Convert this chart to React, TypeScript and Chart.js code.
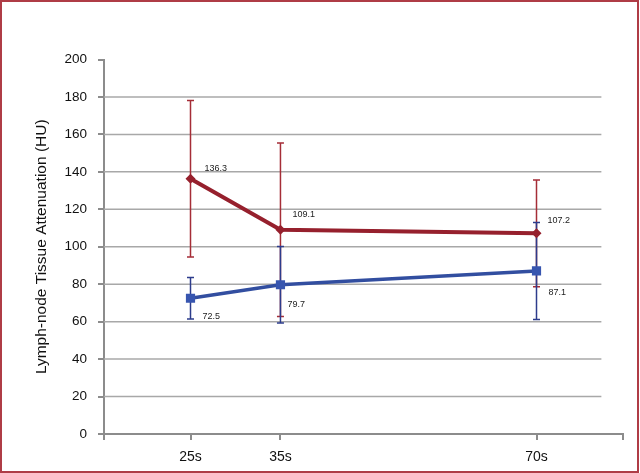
import React, { useEffect, useRef } from 'react';
import { Chart, registerables } from 'chart.js';

Chart.register(...registerables);

// ---- data ----
const categories = ['25s', '35s', '70s'];
const categoryPositions = [1, 2.04, 5];
const xAxisTicks = [0, 1, 2.04, 5, 6];
const yTicks = [0, 20, 40, 60, 80, 100, 120, 140, 160, 180, 200];
const gridValues = [20, 40, 60, 80, 100, 120, 140, 160, 180];

const redValues = [136.3, 109.1, 107.2];
const redErrors = [41.8, 46.3, 28.5];
const blueValues = [72.5, 79.7, 87.1];
const blueErrors = [11.1, 20.4, 25.9];

// label offsets relative to the point (px)
const redLabelOffsets = [[14, -10], [12, -15], [11, -13]];
const blueLabelOffsets = [[12, 18], [7, 20], [12, 22]];

const RED = 'rgb(150,32,45)';
const RED_BAR = 'rgb(165,45,55)';
const BLUE = 'rgb(50,78,160)';
const BLUE_BAR = 'rgb(45,60,140)';
const AXIS = '#8c8c8c';
const GRID = '#a8a8a8';
const FONT = "'Liberation Sans', Arial, Helvetica, sans-serif";
const GRID_END = 5.75;

const labelFor = (v: number) => {
  const i = categoryPositions.indexOf(v);
  return i >= 0 ? categories[i] : '';
};

export default function App() {
  const ref = useRef<HTMLCanvasElement>(null);

  useEffect(() => {
    const canvas = ref.current!;
    const toPts = (vals: number[]) => vals.map((v, i) => ({ x: categoryPositions[i], y: v }));

    const decor = {
      id: 'decor',
      beforeDatasetsDraw(chart: any) {
        const { ctx, chartArea, scales } = chart;
        const x = scales.x;
        const y = scales.y;
        ctx.save();
        // gridlines
        ctx.strokeStyle = GRID;
        ctx.lineWidth = 1.5;
        const xr = x.getPixelForValue(GRID_END);
        gridValues.forEach((v) => {
          const py = y.getPixelForValue(v);
          ctx.beginPath();
          ctx.moveTo(chartArea.left, py);
          ctx.lineTo(xr, py);
          ctx.stroke();
        });
        // error bars
        const bars = (vals: number[], errs: number[], color: string) => {
          ctx.strokeStyle = color;
          ctx.lineWidth = 1.5;
          vals.forEach((v, i) => {
            const px = x.getPixelForValue(categoryPositions[i]);
            const top = y.getPixelForValue(v + errs[i]);
            const bot = y.getPixelForValue(v - errs[i]);
            ctx.beginPath();
            ctx.moveTo(px, top);
            ctx.lineTo(px, bot);
            ctx.moveTo(px - 3.5, top);
            ctx.lineTo(px + 3.5, top);
            ctx.moveTo(px - 3.5, bot);
            ctx.lineTo(px + 3.5, bot);
            ctx.stroke();
          });
        };
        bars(redValues, redErrors, RED_BAR);
        bars(blueValues, blueErrors, BLUE_BAR);
        ctx.restore();
      },
      afterDatasetsDraw(chart: any) {
        const { ctx, scales } = chart;
        const x = scales.x;
        const y = scales.y;
        ctx.save();
        ctx.fillStyle = '#222';
        ctx.font = `9px ${FONT}`;
        ctx.textAlign = 'left';
        ctx.textBaseline = 'middle';
        const labels = (vals: number[], offs: number[][]) => {
          vals.forEach((v, i) => {
            const px = x.getPixelForValue(categoryPositions[i]);
            const py = y.getPixelForValue(v);
            ctx.fillText(v.toFixed(1), px + offs[i][0], py + offs[i][1]);
          });
        };
        labels(redValues, redLabelOffsets);
        labels(blueValues, blueLabelOffsets);
        ctx.restore();
      },
      afterDraw(chart: any) {
        const { ctx } = chart;
        ctx.save();
        ctx.strokeStyle = 'rgb(175,60,70)';
        ctx.lineWidth = 2;
        ctx.strokeRect(1, 1, 637, 471);
        ctx.restore();
      },
    };

    const chart = new Chart(canvas, {
      type: 'line',
      data: {
        datasets: [
          {
            label: 'red',
            data: toPts(redValues),
            borderColor: RED,
            backgroundColor: RED,
            borderWidth: 4,
            pointStyle: 'rectRot',
            pointRadius: 5,
            pointBorderWidth: 0,
            pointBackgroundColor: RED,
            tension: 0,
          },
          {
            label: 'blue',
            data: toPts(blueValues),
            borderColor: BLUE,
            backgroundColor: BLUE,
            borderWidth: 3.5,
            pointStyle: 'rect',
            pointRadius: 6.5,
            pointBorderWidth: 0,
            pointBackgroundColor: 'rgb(55,85,175)',
            tension: 0,
          },
        ],
      },
      options: {
        responsive: false,
        animation: false,
        devicePixelRatio: 1,
        layout: { padding: { top: 59.5, right: 17, left: 0, bottom: 0 } },
        plugins: { legend: { display: false }, tooltip: { enabled: false } },
        scales: {
          x: {
            type: 'linear',
            min: 0,
            max: 6,
            afterBuildTicks: (s: any) => {
              s.ticks = xAxisTicks.map((v) => ({ value: v }));
            },
            afterFit: (s: any) => {
              s.height = 39;
            },
            ticks: {
              callback: (v: any) => labelFor(Number(v)),
              font: { family: FONT, size: 14 },
              color: '#111',
              padding: 9,
              maxRotation: 0,
              autoSkip: false,
            },
            grid: { drawOnChartArea: false, drawTicks: true, tickLength: 6, color: AXIS, lineWidth: 2 },
            border: { display: true, color: AXIS, width: 2 },
          },
          y: {
            type: 'linear',
            min: 0,
            max: 200,
            afterBuildTicks: (s: any) => {
              s.ticks = yTicks.map((v) => ({ value: v }));
            },
            afterFit: (s: any) => {
              s.width = 104;
            },
            ticks: {
              font: { family: FONT, size: 13.5 },
              color: '#111',
              padding: 11,
            },
            grid: { drawOnChartArea: false, drawTicks: true, tickLength: 6, color: AXIS, lineWidth: 2 },
            border: { display: true, color: AXIS, width: 2 },
            title: {
              display: true,
              text: 'Lymph-node Tissue Attenuation (HU)',
              font: { family: FONT, size: 15.5 },
              color: '#111',
              padding: { top: 32, bottom: 0 },
            },
          },
        },
      },
      plugins: [decor],
    } as any);

    return () => chart.destroy();
  }, []);

  return (
    <div style={{ position: 'absolute', left: 0, top: 0, width: 640, height: 473, background: '#fff' }}>
      <canvas ref={ref} width={640} height={473} style={{ display: 'block' }} />
    </div>
  );
}
